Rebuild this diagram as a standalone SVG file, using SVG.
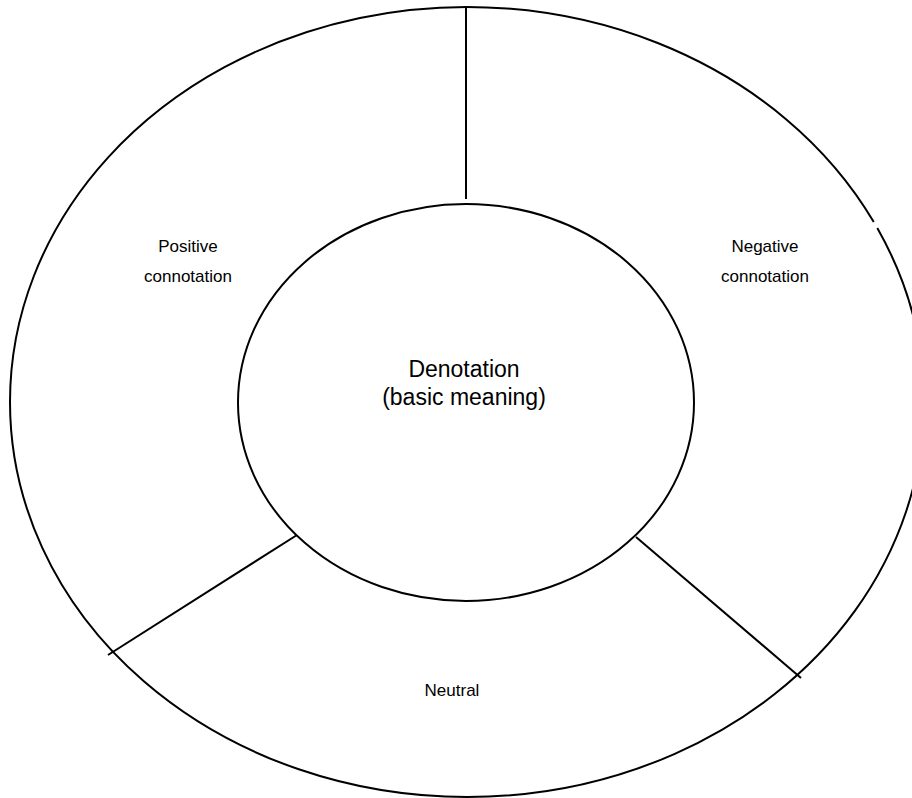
<svg xmlns="http://www.w3.org/2000/svg" width="912" height="798" viewBox="0 0 912 798">
  <style>
    .ring { fill: none; stroke: #000; stroke-width: 2; }
    .divider { stroke: #000; stroke-width: 2; }
    .label { font-family: "Liberation Sans", Arial, sans-serif; fill: #000; text-anchor: middle; }
    .small { font-size: 17px; }
    .big { font-size: 23px; }
  </style>
  <rect width="912" height="798" fill="#fff"/>
  <g id="outer-ring">
    <!-- outer ellipse (centre 467,402; radii 457x395) as three arcs, leaving a small break on the upper right -->
    <path class="ring" d="M 873.8 222 A 457 395 0 0 0 10 402 A 457 395 0 0 0 467 797 A 457 395 0 0 0 877.3 228"/>
  </g>
  <g id="connectors">
    <line class="divider" x1="466" y1="7" x2="466" y2="199"/>
    <line class="divider" x1="297" y1="535" x2="108" y2="655"/>
    <line class="divider" x1="636" y1="537" x2="801" y2="678"/>
  </g>
  <g id="denotation">
    <ellipse class="ring" cx="466" cy="402.5" rx="228" ry="198.5" fill="#fff"/>
    <text class="label big" x="464" y="377">Denotation</text>
    <text class="label big" x="464" y="405">(basic meaning)</text>
  </g>
  <g id="positive">
    <text class="label small" x="188" y="252">Positive</text>
    <text class="label small" x="188" y="282">connotation</text>
  </g>
  <g id="negative">
    <text class="label small" x="765" y="252">Negative</text>
    <text class="label small" x="765" y="282">connotation</text>
  </g>
  <g id="neutral">
    <text class="label small" x="452" y="696">Neutral</text>
  </g>
</svg>
